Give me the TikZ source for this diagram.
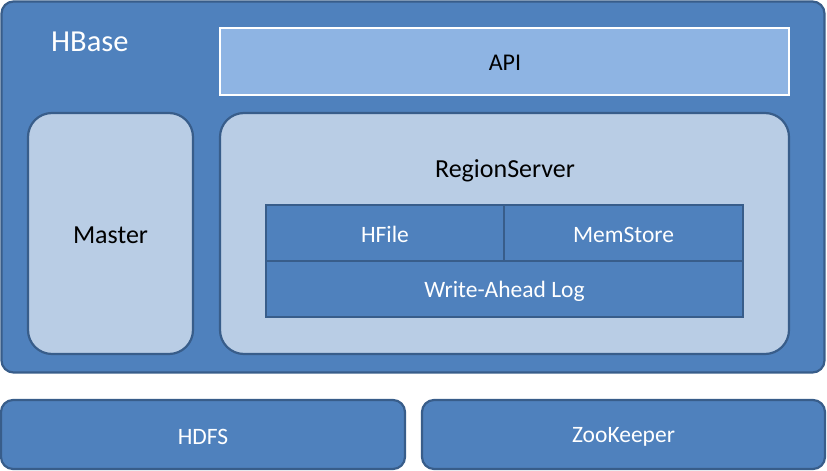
\documentclass[tikz,border=0pt]{standalone}
\usepackage{fontspec}
\setmainfont{Carlito}
\definecolor{mainblue}{HTML}{4F81BD}
\definecolor{edgeblue}{HTML}{385D8A}
\definecolor{lightblue}{HTML}{B9CDE5}
\definecolor{apiblue}{HTML}{8EB4E3}
\begin{document}
\begin{tikzpicture}[x=1pt,y=-1pt,
  box/.style={draw=edgeblue,line width=2.2pt,rectangle,inner sep=0pt,outer sep=0pt},
  bigbox/.style={box,fill=mainblue,rounded corners=12pt},
  softbox/.style={box,fill=lightblue,rounded corners=24pt},
  cell/.style={box,fill=mainblue,line width=2.6pt},
  wtext/.style={text=white,font=\fontsize{23.5}{28}\selectfont,inner sep=0pt},
  btext/.style={text=black,font=\fontsize{26}{31}\selectfont,inner sep=0pt}]
\useasboundingbox (0,0) rectangle (827,471);
\node[bigbox,minimum width=823,minimum height=371] (hbase) at (413,187) {};
\node[text=white,font=\fontsize{30.5}{36}\selectfont,anchor=west,inner sep=0pt] (hbaselabel) at (51,42) {HBase};
\node[draw=white,line width=2.2pt,fill=apiblue,minimum width=569,minimum height=67,inner sep=0pt] (api) at (504.5,61.5) {};
\node[text=black,font=\fontsize{24}{29}\selectfont,inner sep=0pt] (apilabel) at (505,63) {API};
\node[softbox,minimum width=165,minimum height=241] (master) at (110.5,233.5) {};
\node[btext] (masterlabel) at (110.5,235) {Master};
\node[softbox,minimum width=569,minimum height=241] (rs) at (504.5,233.5) {};
\node[btext] (rslabel) at (505,171) {RegionServer};
\node[cell,minimum width=477,minimum height=56] (wal) at (504.5,289) {};
\node[cell,minimum width=238,minimum height=56] (hfile) at (385,233) {};
\node[cell,minimum width=239,minimum height=56] (memstore) at (623.5,233) {};
\node[wtext] (wallabel) at (504.5,291) {Write-Ahead Log};
\node[wtext] (hfilelabel) at (385,234.5) {HFile};
\node[wtext] (memlabel) at (623.5,234.5) {MemStore};
\node[bigbox,minimum width=404,minimum height=69] (hdfs) at (203,434.5) {};
\node[bigbox,minimum width=403,minimum height=69] (zk) at (623.5,434.5) {};
\node[wtext] (hdfslabel) at (203,437) {HDFS};
\node[wtext] (zklabel) at (623.5,437) {ZooKeeper};
\end{tikzpicture}
\end{document}
